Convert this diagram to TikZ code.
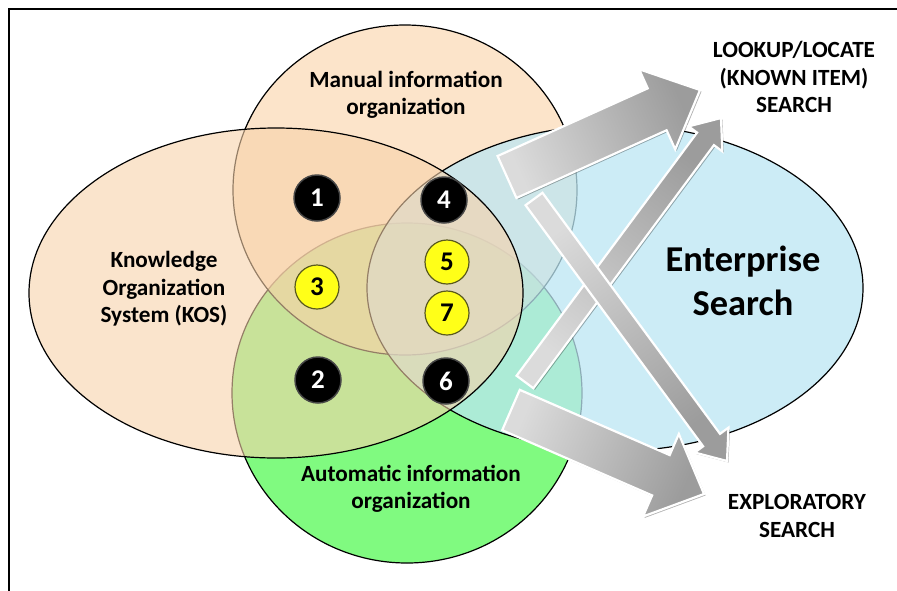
\documentclass[tikz,border=0pt]{standalone}
\usepackage{fontspec}
\setmainfont{Carlito}
\usetikzlibrary{calc,shadows}
\definecolor{manualc}{RGB}{250,210,167}
\definecolor{greenc}{RGB}{128,250,128}
\definecolor{entc}{RGB}{188,230,243}
\definecolor{kosc}{RGB}{248,210,170}
\definecolor{yellowc}{RGB}{255,255,24}
\definecolor{yrim}{RGB}{90,90,30}
\newcommand{\blockarrow}[7]{%
  \coordinate (#1-b) at ($(#3)!#6!(#2)$);
  \path[barrow, shading angle=#7]
    ($(#2)!#4!90:(#3)$) -- ($(#1-b)!#4!90:(#3)$) -- ($(#1-b)!#5!90:(#3)$) -- (#3)
    -- ($(#1-b)!#5!-90:(#3)$) -- ($(#1-b)!#4!-90:(#3)$) -- ($(#2)!#4!-90:(#3)$) -- cycle;
}
\begin{document}
\begin{tikzpicture}[x=1pt,y=-1pt,
  venn/.style={draw=black, line width=1.2pt},
  lbl/.style={align=center, inner sep=0pt, font=\fontsize{23.2}{27.5}\selectfont\bfseries},
  biglbl/.style={align=center, inner sep=0pt, font=\fontsize{36.4}{44}\selectfont\bfseries},
  numblk/.style={circle, fill=black, draw=gray!55!black, line width=1.5pt, minimum size=46pt,
    inner sep=0pt, text=white, font=\fontsize{27}{27}\selectfont\bfseries},
  numyel/.style={circle, fill=yellowc, draw=yrim, line width=1.2pt, minimum size=44pt,
    inner sep=0pt, text=black, font=\fontsize{27}{27}\selectfont\bfseries},
  barrow/.style={draw=white, line width=2.2pt, line join=miter,
    top color=gray!28, bottom color=gray!78,
    drop shadow={shadow xshift=1.5pt, shadow yshift=-1.5pt, opacity=.3, fill=black}}
]
\useasboundingbox (0,0) rectangle (897,590);
\fill[white] (0,0) rectangle (897,590);
% frame
\draw[line width=2pt] (9,595) -- (9,9) -- (902,9);

% Venn ellipses (order: automatic, manual, enterprise, KOS)
\draw[venn, fill=greenc] (407,393) ellipse [x radius=175pt, y radius=170pt];
\draw[venn, fill=manualc, fill opacity=.6] (405,190) ellipse [x radius=172pt, y radius=165pt];
\draw[venn, fill=entc, fill opacity=.75] (615,288) ellipse [x radius=248pt, y radius=163pt];
\draw[venn, fill=kosc, fill opacity=.6] (276,293) ellipse [x radius=247pt, y radius=165pt];

% numbered markers
\node[numblk] (n1) at (317,198) {1};
\node[numblk] (n4) at (444,200) {4};
\node[numyel] (n3) at (317,287) {3};
\node[numyel] (n5) at (447,262) {5};
\node[numyel] (n7) at (447,313) {7};
\node[numblk] (n2) at (318,380) {2};
\node[numblk] (n6) at (446,381) {6};

% block arrows
\coordinate (t1) at (507,177); \coordinate (p1) at (700,90);
\coordinate (t4) at (511,410); \coordinate (p4) at (704,494);
\coordinate (t2) at (525,382); \coordinate (p2) at (721,118);
\coordinate (t3) at (534,199); \coordinate (p3) at (727,461);
\blockarrow{a1}{t1}{p1}{23pt}{44pt}{47pt}{114.3}
\blockarrow{a4}{t4}{p4}{22pt}{45pt}{47pt}{66.5}
\blockarrow{a2}{t2}{p2}{10.5pt}{21pt}{26pt}{143.5}
\blockarrow{a3}{t3}{p3}{10.5pt}{21pt}{26pt}{36.4}

% labels
\node[lbl] (manual) at (406,95) {Manual information\\organization};
\node[lbl] (kos) at (164,289) {Knowledge\\Organization\\System (KOS)};
\node[lbl] (auto) at (411,489) {Automatic information\\organization};
\node[biglbl] (ent) at (743,281) {Enterprise\\Search};
\node[lbl] (lookup) at (794,77) {LOOKUP/LOCATE\\(KNOWN ITEM)\\SEARCH};
\node[lbl] (explore) at (797,516) {EXPLORATORY\\SEARCH};
\end{tikzpicture}
\end{document}
